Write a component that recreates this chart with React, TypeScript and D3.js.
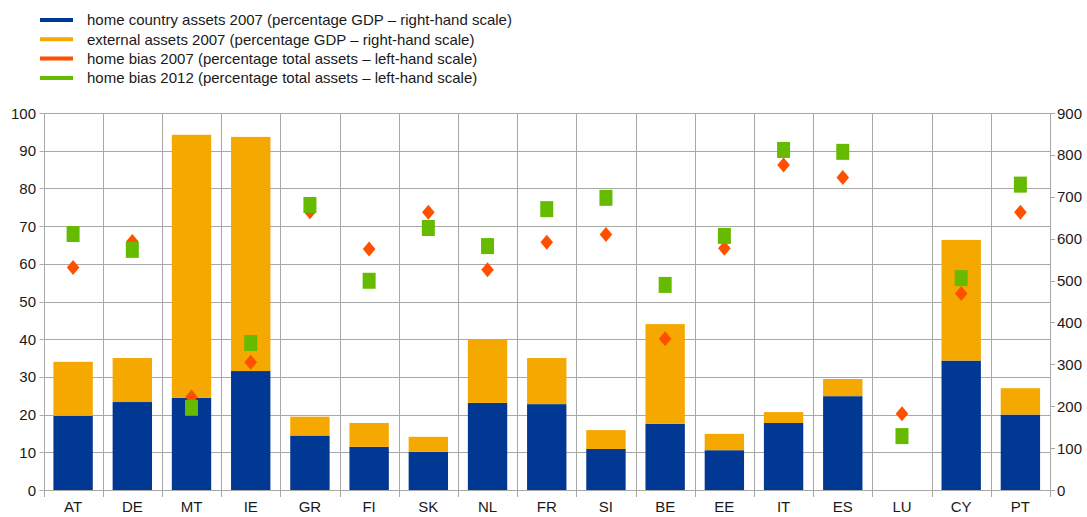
import { useEffect, useRef } from "react";
import * as d3 from "d3";

const countries = ["AT", "DE", "MT", "IE", "GR", "FI", "SK", "NL", "FR", "SI", "BE", "EE", "IT", "ES", "LU", "CY", "PT"];
// percentage GDP, right-hand scale
const homeAssets2007 = [177, 210, 220, 284, 130, 103, 91, 208, 205, 98, 158, 95, 160, 224, null, 309, 180];
const externalAssets2007 = [129, 105, 628, 559, 45, 57, 36, 151, 110, 45, 238, 39, 26, 41, null, 288, 63];
// percentage total assets, left-hand scale
const homeBias2007 = [59.0, 65.9, 24.7, 33.9, 73.8, 63.9, 73.7, 58.4, 65.7, 67.8, 40.1, 64.1, 86.2, 82.9, 20.2, 52.1, 73.7];
const homeBias2012 = [67.9, 63.7, 21.8, 39.0, 75.6, 55.5, 69.5, 64.7, 74.5, 77.5, 54.4, 67.4, 90.2, 89.7, 14.3, 56.2, 81.0];

const leftTicks = [0, 10, 20, 30, 40, 50, 60, 70, 80, 90, 100];
const rightTicks = [0, 100, 200, 300, 400, 500, 600, 700, 800, 900];

const legendItems = [
  { label: "home country assets 2007 (percentage GDP \u2013 right-hand scale)", color: "#003893" },
  { label: "external assets 2007 (percentage GDP \u2013 right-hand scale)", color: "#F5A800" },
  { label: "home bias 2007 (percentage total assets \u2013 left-hand scale)", color: "#FF5000" },
  { label: "home bias 2012 (percentage total assets \u2013 left-hand scale)", color: "#66BB00" },
];

export default function App() {
  const ref = useRef<SVGSVGElement>(null);

  useEffect(() => {
    const svg = d3.select(ref.current);
    svg.selectAll("*").remove();

    const width = 1087;
    const height = 517;
    const margin = { top: 113, right: 37, bottom: 27, left: 43.5 };
    const font = "'Liberation Sans', Arial, sans-serif";
    const grid = "#a8a8a8";

    const x = d3
      .scaleBand()
      .domain(countries)
      .range([margin.left, width - margin.right])
      .paddingInner(0)
      .paddingOuter(0);

    const yLeft = d3.scaleLinear().domain([0, 100]).range([height - margin.bottom, margin.top]);
    const yRight = d3.scaleLinear().domain([0, 900]).range([height - margin.bottom, margin.top]);

    // horizontal grid
    svg
      .append("g")
      .selectAll("line")
      .data(leftTicks)
      .join("line")
      .attr("x1", margin.left)
      .attr("x2", width - margin.right)
      .attr("y1", (d) => Math.round(yLeft(d)) + 0.5)
      .attr("y2", (d) => Math.round(yLeft(d)) + 0.5)
      .attr("stroke", grid)
      .attr("stroke-width", 1);

    // vertical grid at category boundaries
    const bounds = countries.map((c) => x(c)!).concat([width - margin.right]);
    svg
      .append("g")
      .selectAll("line")
      .data(bounds)
      .join("line")
      .attr("x1", (d) => Math.round(d) + 0.5)
      .attr("x2", (d) => Math.round(d) + 0.5)
      .attr("y1", margin.top)
      .attr("y2", height - margin.bottom + 7)
      .attr("stroke", grid)
      .attr("stroke-width", 1);

    // right axis ticks
    svg
      .append("g")
      .selectAll("line")
      .data(rightTicks)
      .join("line")
      .attr("x1", width - margin.right)
      .attr("x2", width - margin.right + 5)
      .attr("y1", (d) => Math.round(yRight(d)) + 0.5)
      .attr("y2", (d) => Math.round(yRight(d)) + 0.5)
      .attr("stroke", grid);

    // left axis ticks
    svg
      .append("g")
      .selectAll("line")
      .data(leftTicks)
      .join("line")
      .attr("x1", margin.left - 4)
      .attr("x2", margin.left)
      .attr("y1", (d) => Math.round(yLeft(d)) + 0.5)
      .attr("y2", (d) => Math.round(yLeft(d)) + 0.5)
      .attr("stroke", grid);

    // stacked bars
    const barW = x.bandwidth() * 0.665;
    const barsG = svg.append("g");
    countries.forEach((c, i) => {
      const home = homeAssets2007[i];
      const ext = externalAssets2007[i];
      if (home == null || ext == null) return;
      const bx = x(c)! + (x.bandwidth() - barW) / 2;
      barsG
        .append("rect")
        .attr("x", bx)
        .attr("width", barW)
        .attr("y", yRight(home))
        .attr("height", yRight(0) - yRight(home))
        .attr("fill", "#003893");
      barsG
        .append("rect")
        .attr("x", bx)
        .attr("width", barW)
        .attr("y", yRight(home + ext))
        .attr("height", yRight(home) - yRight(home + ext))
        .attr("fill", "#F5A800");
    });

    // markers
    const cx = (c: string) => x(c)! + x.bandwidth() / 2;
    svg
      .append("g")
      .selectAll("path")
      .data(countries)
      .join("path")
      .attr("d", (c, i) => {
        const px = cx(c);
        const py = yLeft(homeBias2007[i]);
        return `M${px},${py - 7.5}L${px + 6.3},${py}L${px},${py + 7.5}L${px - 6.3},${py}Z`;
      })
      .attr("fill", "#FF5000");

    svg
      .append("g")
      .selectAll("rect")
      .data(countries)
      .join("rect")
      .attr("x", (c) => cx(c) - 6.5)
      .attr("y", (c, i) => yLeft(homeBias2012[i]) - 8)
      .attr("width", 13)
      .attr("height", 16)
      .attr("fill", "#66BB00");

    // left labels
    svg
      .append("g")
      .selectAll("text")
      .data(leftTicks)
      .join("text")
      .attr("x", 36)
      .attr("y", (d) => yLeft(d) + 5.5)
      .attr("text-anchor", "end")
      .attr("font-family", font)
      .attr("font-size", 15)
      .attr("fill", "#1a1a1a")
      .text((d) => d);

    // right labels
    svg
      .append("g")
      .selectAll("text")
      .data(rightTicks)
      .join("text")
      .attr("x", width - margin.right + 7)
      .attr("y", (d) => yRight(d) + 5.5)
      .attr("text-anchor", "start")
      .attr("font-family", font)
      .attr("font-size", 15)
      .attr("fill", "#1a1a1a")
      .text((d) => d);

    // category labels
    svg
      .append("g")
      .selectAll("text")
      .data(countries)
      .join("text")
      .attr("x", (c) => cx(c))
      .attr("y", height - 5)
      .attr("text-anchor", "middle")
      .attr("font-family", font)
      .attr("font-size", 15)
      .attr("fill", "#1a1a1a")
      .text((c) => c);

    // legend
    const legend = svg.append("g");
    legendItems.forEach((item, i) => {
      const ly = 20 + i * 19.3;
      legend
        .append("line")
        .attr("x1", 40)
        .attr("x2", 73)
        .attr("y1", ly)
        .attr("y2", ly)
        .attr("stroke", item.color)
        .attr("stroke-width", 4);
      legend
        .append("text")
        .attr("x", 87)
        .attr("y", ly + 5.3)
        .attr("font-family", font)
        .attr("font-size", 15)
        .attr("fill", "#1a1a1a")
        .text(item.label);
    });
  }, []);

  return (
    <svg
      ref={ref}
      width={1087}
      height={517}
      style={{ position: "absolute", left: 0, top: 0, background: "#fff" }}
    />
  );
}
